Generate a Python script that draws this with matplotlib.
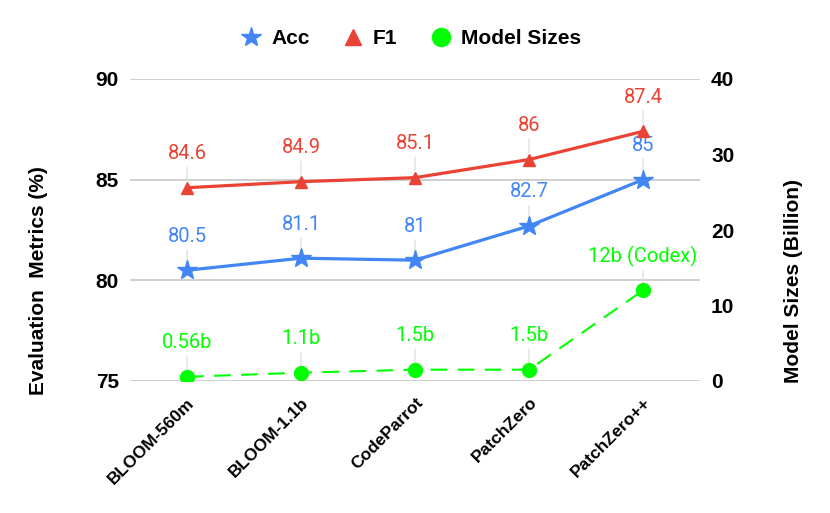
import matplotlib
matplotlib.use("Agg")
import matplotlib.pyplot as plt
from matplotlib.lines import Line2D

categories = ["BLOOM-560m", "BLOOM-1.1b", "CodeParrot", "PatchZero", "PatchZero++"]
acc = [80.5, 81.1, 81.0, 82.7, 85.0]
f1 = [84.6, 84.9, 85.1, 86.0, 87.4]
sizes = [0.56, 1.1, 1.5, 1.5, 12.0]
size_labels = ["0.56b", "1.1b", "1.5b", "1.5b", "12b (Codex)"]
acc_labels = ["80.5", "81.1", "81", "82.7", "85"]
f1_labels = ["84.6", "84.9", "85.1", "86", "87.4"]

BLUE = "#4285F4"
RED = "#EA4335"
GREEN = "#00FF00"
GRID = "#cccccc"
TICKFONT = "Liberation Sans"
LABFONT = "Roboto"

fig = plt.figure(figsize=(8.30, 5.13), dpi=100)
ax = fig.add_axes([130/830, 1-381/513, 570/830, 302/513])
ax2 = ax.twinx()

x = list(range(len(categories)))

ax.plot(x, acc, color=BLUE, lw=2.3, marker="*", ms=15, zorder=3)
ax.plot(x, f1, color=RED, lw=2.3, marker="^", ms=9, zorder=3)
ax2.plot(x, sizes, color=GREEN, lw=1.5, ls=(0, (8, 5)), marker="o", ms=10, zorder=3)

def labels(a, vals, texts, color):
    for xi, v, t in zip(x, vals, texts):
        a.annotate(t, xy=(xi, v), xytext=(0, 24.5), textcoords="offset points",
                   ha="center", va="center", color=color, fontsize=14.5,
                   family=LABFONT, zorder=1,
                   arrowprops=dict(arrowstyle="-", color="#e0e0e0", lw=1.0,
                                   shrinkA=1, shrinkB=5))

labels(ax, acc, acc_labels, BLUE)
labels(ax, f1, f1_labels, RED)
labels(ax2, sizes, size_labels, GREEN)

ax.set_xlim(-0.5, len(categories) - 0.5)
ax.set_ylim(75, 90)
ax.set_yticks([75, 80, 85, 90])
ax2.set_ylim(0, 40)
ax2.set_yticks([0, 10, 20, 30, 40])

ax.grid(axis="y", color=GRID, lw=1.3)
ax.set_axisbelow(True)
for a in (ax, ax2):
    for s in a.spines.values():
        s.set_visible(False)
    a.tick_params(length=0)

ax.tick_params(axis="y", pad=8)
ax2.tick_params(axis="y", pad=8)
for lab in ax.get_yticklabels() + ax2.get_yticklabels():
    lab.set_fontfamily(TICKFONT)
    lab.set_fontweight("bold")
    lab.set_fontsize(15)

ax.set_xticks(x)
ax.set_xticklabels(categories, rotation=45, ha="right", rotation_mode="anchor",
                   fontfamily=TICKFONT, fontweight="bold", fontsize=12.5)
ax.tick_params(axis="x", pad=10)

fig.text(39/830, 1-281/513, "Evaluation  Metrics (%)", rotation=90, ha="center", va="center",
         fontfamily=TICKFONT, fontweight="bold", fontsize=15)
fig.text(793/830, 1-281/513, "Model Sizes (Billion)", rotation=90, ha="center", va="center",
         fontfamily=TICKFONT, fontweight="bold", fontsize=15)

handles = [
    Line2D([], [], ls="none", marker="*", ms=15, color=BLUE),
    Line2D([], [], ls="none", marker="^", ms=11, color=RED),
    Line2D([], [], ls="none", marker="o", ms=13, color=GREEN),
]
fig.legend(handles, ["Acc", "F1", "Model Sizes"], loc="center", bbox_to_anchor=(410/830, 1-39/513),
           ncol=3, frameon=False, handletextpad=0.35, columnspacing=1.5, handlelength=1.2,
           prop=dict(family=TICKFONT, weight="bold", size=15))

fig.savefig("out.png", dpi=100)
